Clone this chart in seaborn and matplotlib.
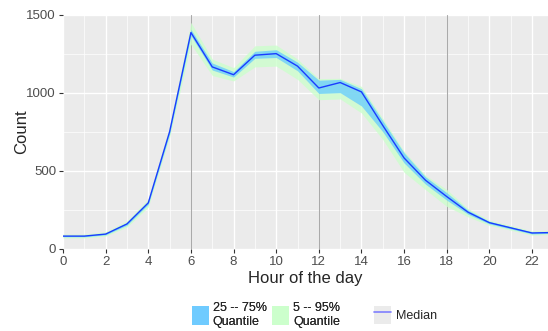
import numpy as np
import pandas as pd
import matplotlib
matplotlib.use("Agg")
import matplotlib.pyplot as plt
import seaborn as sns
from matplotlib.patches import Patch
from matplotlib.lines import Line2D

hours = list(range(24))
median = [82, 82, 95, 160, 295, 750, 1385, 1165, 1115, 1240, 1250, 1170,
          1030, 1065, 1005, 790, 582, 440, 335, 235, 168, 135, 102, 105]
q25 = [78, 78, 90, 152, 285, 735, 1365, 1145, 1100, 1220, 1225, 1140,
       995, 1000, 915, 750, 550, 415, 312, 222, 160, 128, 96, 100]
q75 = [86, 86, 100, 168, 305, 765, 1405, 1190, 1135, 1265, 1275, 1195,
       1080, 1085, 1025, 820, 615, 462, 360, 248, 176, 142, 108, 110]
q05 = [70, 70, 82, 140, 268, 715, 1310, 1110, 1075, 1165, 1170, 1085,
       955, 960, 870, 700, 490, 380, 272, 205, 150, 120, 88, 92]
q95 = [95, 95, 110, 180, 320, 785, 1450, 1215, 1160, 1300, 1305, 1215,
       1090, 1092, 1040, 835, 625, 472, 380, 258, 184, 150, 115, 118]

df = pd.DataFrame({"hour": hours, "median": median,
                   "q05": q05, "q25": q25, "q75": q75, "q95": q95})

sns.set_theme(style="darkgrid", rc={
    "axes.facecolor": "#EBEBEB",
    "grid.color": "white",
    "axes.edgecolor": "#EBEBEB",
})
plt.rcParams["font.family"] = ["Liberation Sans", "DejaVu Sans"]

fig = plt.figure(figsize=(5.48, 3.31), dpi=100)
ax = fig.add_axes([0.115, 0.248, 0.885, 0.708])

# quantile bands, then the median on top
ax.fill_between(df["hour"], df["q05"], df["q95"], color="#CCFFCC", alpha=0.8,
                linewidth=0, zorder=2)
ax.fill_between(df["hour"], df["q25"], df["q75"], color="#66CCFF", alpha=0.75,
                linewidth=0, zorder=3)
sns.lineplot(data=df, x="hour", y="median", color="#1A3CFF", linewidth=1.0,
             ax=ax, zorder=4)

for h in [6, 12, 18]:
    ax.axvline(h, color="#AAAAAA", linewidth=0.8, zorder=1.5)

ax.set_xlim(0, 22.75)
ax.set_ylim(0, 1500)
ax.set_xticks(range(0, 23, 2))
ax.set_xticks(range(1, 23, 2), minor=True)
ax.set_yticks([0, 500, 1000, 1500])
ax.set_yticks([250, 750, 1250], minor=True)
ax.grid(which="major", color="white", linewidth=1.0)
ax.grid(which="minor", color="white", linewidth=0.5)
ax.tick_params(which="major", labelsize=9.5, labelcolor="#4D4D4D", length=3,
               color="#333333", width=0.8, pad=2, bottom=True, left=True)
ax.tick_params(which="minor", length=0)
for s in ax.spines.values():
    s.set_visible(False)
ax.set_xlabel("Hour of the day", fontsize=12, labelpad=2)
ax.set_ylabel("Count", fontsize=12)
ax.yaxis.set_label_coords(-0.07, 0.5)

fill_handles = [Patch(facecolor="#6FCBFF", edgecolor="none"),
                Patch(facecolor="#CCFFCC", edgecolor="none")]
leg1 = fig.legend(fill_handles, ["25 -- 75%\nQuantile", "5 -- 95%\nQuantile"],
                  loc="center", bbox_to_anchor=(0.485, 0.048), ncol=2,
                  frameon=False, fontsize=9, handlelength=1.4, handleheight=1.9,
                  handletextpad=0.3, columnspacing=0.4, labelspacing=0.2)
line_handle = [(Patch(facecolor="#EBEBEB", edgecolor="none"),
                Line2D([0], [0], color="#7F7FFF", linewidth=1.2))]
leg2 = fig.legend(line_handle, ["Median"], loc="center",
                  bbox_to_anchor=(0.74, 0.048), frameon=False, fontsize=9,
                  handlelength=1.4, handleheight=1.9, handletextpad=0.4)
fig.add_artist(leg1)

fig.savefig("out.png", dpi=100)
